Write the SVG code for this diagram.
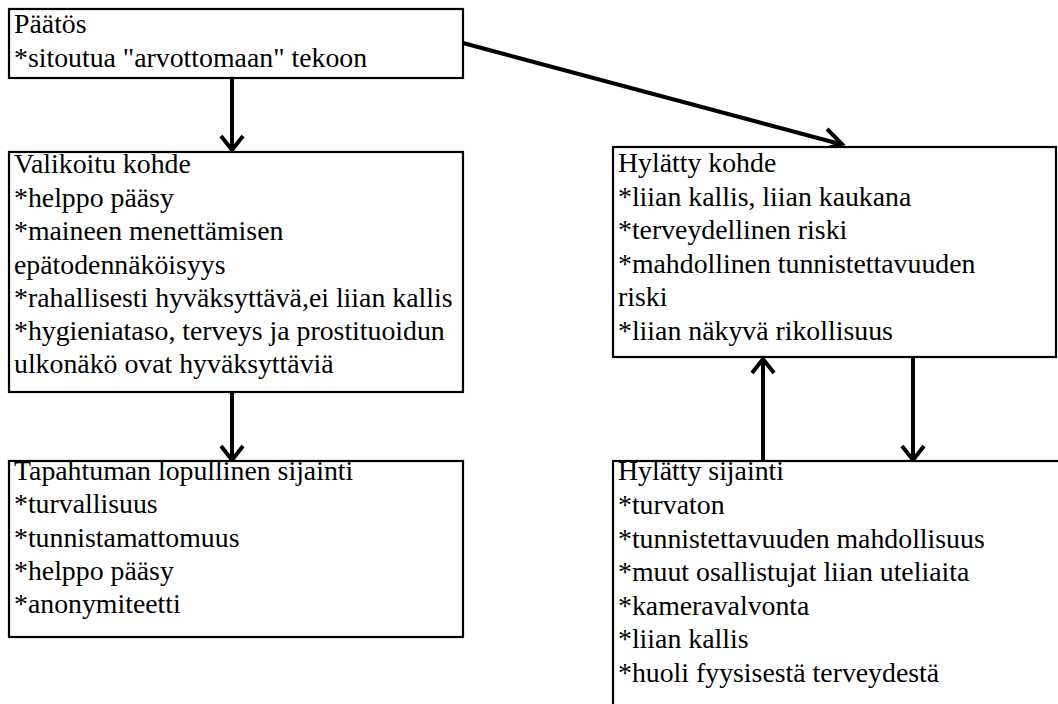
<svg xmlns="http://www.w3.org/2000/svg" width="1058" height="704" viewBox="0 0 1058 704">
<rect width="1058" height="704" fill="#fff"/>
<g id="connectors" stroke="#000" stroke-width="4" fill="none">
<line x1="232" y1="79" x2="232" y2="149"/>
<path d="M221,136 L232,150 L243,136"/>
<line x1="463" y1="43" x2="840" y2="144"/>
<path d="M827,129 L842,144 L822,150"/>
<line x1="232" y1="392" x2="232" y2="458"/>
<path d="M221,446 L232,460 L243,446"/>
<line x1="763" y1="461" x2="763" y2="360"/>
<path d="M752,373 L763,359 L774,373"/>
<line x1="913" y1="357" x2="913" y2="458"/>
<path d="M902,446 L913,460 L924,446"/>
</g>
<g id="paatos">
<rect x="9" y="9" width="454" height="69" fill="#fff" stroke="#000" stroke-width="2.2"/>
<text font-family="serif" font-size="27.8" x="14" y="33">Päätös</text>
<text font-family="serif" font-size="27.8" x="14" y="67">*sitoutua "arvottomaan" tekoon</text>
</g>
<g id="valikoitu">
<rect x="9" y="152" width="454" height="240" fill="#fff" stroke="#000" stroke-width="2.2"/>
<text font-family="serif" font-size="27.8" x="14" y="173">Valikoitu kohde</text>
<text font-family="serif" font-size="27.8" x="14" y="207">*helppo pääsy</text>
<text font-family="serif" font-size="27.8" x="14" y="240">*maineen menettämisen</text>
<text font-family="serif" font-size="27.8" x="14" y="274">epätodennäköisyys</text>
<text font-family="serif" font-size="27.8" x="14" y="307">*rahallisesti hyväksyttävä,ei liian kallis</text>
<text font-family="serif" font-size="27.8" x="14" y="340">*hygieniataso, terveys ja prostituoidun</text>
<text font-family="serif" font-size="27.8" x="14" y="373">ulkonäkö ovat hyväksyttäviä</text>
</g>
<g id="tapahtuman">
<rect x="9" y="461" width="454" height="176" fill="#fff" stroke="#000" stroke-width="2.2"/>
<text font-family="serif" font-size="27.8" x="14" y="480">Tapahtuman lopullinen sijainti</text>
<text font-family="serif" font-size="27.8" x="14" y="513">*turvallisuus</text>
<text font-family="serif" font-size="27.8" x="14" y="547">*tunnistamattomuus</text>
<text font-family="serif" font-size="27.8" x="14" y="580">*helppo pääsy</text>
<text font-family="serif" font-size="27.8" x="14" y="613">*anonymiteetti</text>
</g>
<g id="hylatty-kohde">
<rect x="613" y="147" width="443" height="210" fill="#fff" stroke="#000" stroke-width="2.2"/>
<text font-family="serif" font-size="27.8" x="618" y="172">Hylätty kohde</text>
<text font-family="serif" font-size="27.8" x="618" y="206">*liian kallis, liian kaukana</text>
<text font-family="serif" font-size="27.8" x="618" y="239">*terveydellinen riski</text>
<text font-family="serif" font-size="27.8" x="618" y="273">*mahdollinen tunnistettavuuden</text>
<text font-family="serif" font-size="27.8" x="618" y="306">riski</text>
<text font-family="serif" font-size="27.8" x="618" y="340">*liian näkyvä rikollisuus</text>
</g>
<g id="hylatty-sijainti">
<rect x="613" y="461" width="460" height="260" fill="#fff" stroke="#000" stroke-width="2.2"/>
<text font-family="serif" font-size="27.8" x="618" y="480">Hylätty sijainti</text>
<text font-family="serif" font-size="27.8" x="618" y="514">*turvaton</text>
<text font-family="serif" font-size="27.8" x="618" y="548">*tunnistettavuuden mahdollisuus</text>
<text font-family="serif" font-size="27.8" x="618" y="581">*muut osallistujat liian uteliaita</text>
<text font-family="serif" font-size="27.8" x="618" y="615">*kameravalvonta</text>
<text font-family="serif" font-size="27.8" x="618" y="648">*liian kallis</text>
<text font-family="serif" font-size="27.8" x="618" y="682">*huoli fyysisestä terveydestä</text>
</g>
</svg>
